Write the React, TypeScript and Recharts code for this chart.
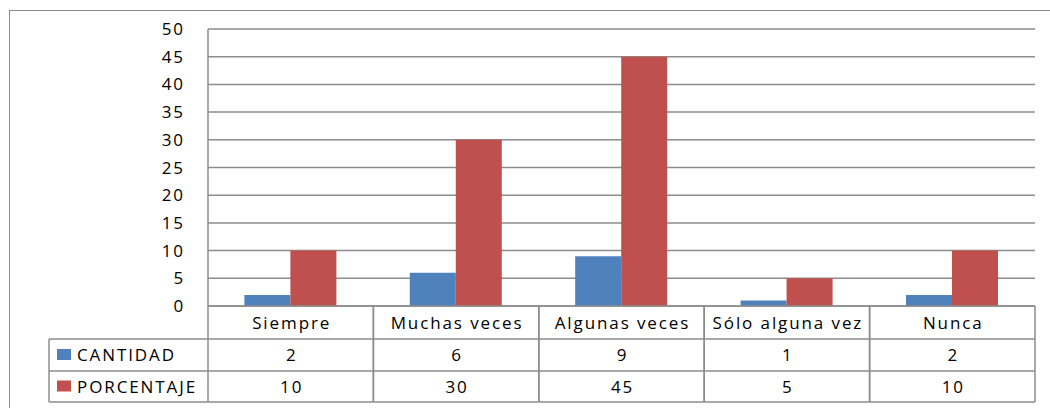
import React from 'react';
import { BarChart, Bar, XAxis, YAxis, CartesianGrid } from 'recharts';

const categories = ['Siempre', 'Muchas veces', 'Algunas veces', 'Sólo alguna vez', 'Nunca'];
const cantidad = [2, 6, 9, 1, 2];
const porcentaje = [10, 30, 45, 5, 10];
const yTicks = [0, 5, 10, 15, 20, 25, 30, 35, 40, 45, 50];
const seriesNames = ['CANTIDAD', 'PORCENTAJE'];
const seriesColors = ['#4F81BD', '#C0504D'];

const data = categories.map((name, i) => ({ name, cantidad: cantidad[i], porcentaje: porcentaje[i] }));

const W = 1050;
const H = 408;
const margin = { top: 29, right: 15, bottom: 0, left: 148 };
const yAxisW = 60;
const xAxisH = 102;
const plotLeft = margin.left + yAxisW;
const plotW = W - plotLeft - margin.right;
const cellW = plotW / categories.length;
const rowH = [33, 32, 31];
const legendLeft = 49;
const lineColor = '#8c8c8c';
const font = { fontFamily: '"Open Sans", sans-serif', fontSize: 17, letterSpacing: 1.9, fill: '#000' };

const TableTick = (props: any) => {
  const { x, y, payload } = props;
  const i: number = props.index ?? payload.index;
  const x0 = x - cellW / 2;
  const x1 = x + cellW / 2;
  const r1 = y + rowH[0];
  const r2 = r1 + rowH[1];
  const r3 = r2 + rowH[2];
  const rows = [cantidad, porcentaje];
  return (
    <g>
      <line x1={x0} y1={y} x2={x0} y2={r3} stroke={lineColor} strokeWidth={1.5} />
      <line x1={x1} y1={y} x2={x1} y2={r3} stroke={lineColor} strokeWidth={1.5} />
      <line x1={x0} y1={r1} x2={x1} y2={r1} stroke={lineColor} strokeWidth={1.5} />
      <line x1={x0} y1={r2} x2={x1} y2={r2} stroke={lineColor} strokeWidth={1.5} />
      <line x1={x0} y1={r3} x2={x1} y2={r3} stroke={lineColor} strokeWidth={1.5} />
      <text x={x + 1} y={y + rowH[0] / 2} dy="0.36em" textAnchor="middle" {...font}>{payload.value}</text>
      {rows.map((vals, k) => (
        <text key={k} x={x + 1} y={(k === 0 ? r1 : r2) + rowH[k + 1] / 2} dy="0.36em" textAnchor="middle" {...font}>
          {vals[i]}
        </text>
      ))}
      {i === 0 && (
        <g>
          <line x1={legendLeft} y1={r1} x2={x0} y2={r1} stroke={lineColor} strokeWidth={1.5} />
          <line x1={legendLeft} y1={r2} x2={x0} y2={r2} stroke={lineColor} strokeWidth={1.5} />
          <line x1={legendLeft} y1={r3} x2={x0} y2={r3} stroke={lineColor} strokeWidth={1.5} />
          <line x1={legendLeft} y1={r1} x2={legendLeft} y2={r3} stroke={lineColor} strokeWidth={1.5} />
          {seriesNames.map((n, k) => {
            const top = k === 0 ? r1 : r2;
            const mid = top + rowH[k + 1] / 2;
            return (
              <g key={n}>
                <rect x={legendLeft + 8} y={mid - 6} width={14} height={11} fill={seriesColors[k]} />
                <text x={legendLeft + 28} y={mid} dy="0.36em" textAnchor="start" {...font}>{n}</text>
              </g>
            );
          })}
        </g>
      )}
    </g>
  );
};

export default function App() {
  return (
    <div style={{ position: 'absolute', left: 0, top: 0, width: W, height: H, overflow: 'hidden', background: '#fff' }}>
      <div
        style={{
          position: 'absolute',
          left: 9,
          top: 10,
          width: 1200,
          height: 600,
          borderLeft: `1.5px solid ${lineColor}`,
          borderTop: `1.5px solid ${lineColor}`,
        }}
      />
      <div style={{ position: 'absolute', left: 0, top: 0 }}>
        <BarChart width={W} height={H} data={data} margin={margin} barGap={0} barCategoryGap="22%">
          <CartesianGrid vertical={false} stroke={lineColor} strokeWidth={1.5} />
          <YAxis
            width={yAxisW}
            domain={[0, 50]}
            ticks={yTicks}
            interval={0}
            tickLine={false}
            tickSize={0}
            tickMargin={23}
            axisLine={{ stroke: lineColor, strokeWidth: 1.5 }}
            tick={{ ...font }}
          />
          <XAxis
            dataKey="name"
            height={xAxisH}
            interval={0}
            tickLine={false}
            tickSize={0}
            tickMargin={0}
            axisLine={{ stroke: lineColor, strokeWidth: 1.5 }}
            tick={TableTick}
          />
          <Bar dataKey="cantidad" name={seriesNames[0]} fill={seriesColors[0]} isAnimationActive={false} />
          <Bar dataKey="porcentaje" name={seriesNames[1]} fill={seriesColors[1]} isAnimationActive={false} />
        </BarChart>
      </div>
    </div>
  );
}
